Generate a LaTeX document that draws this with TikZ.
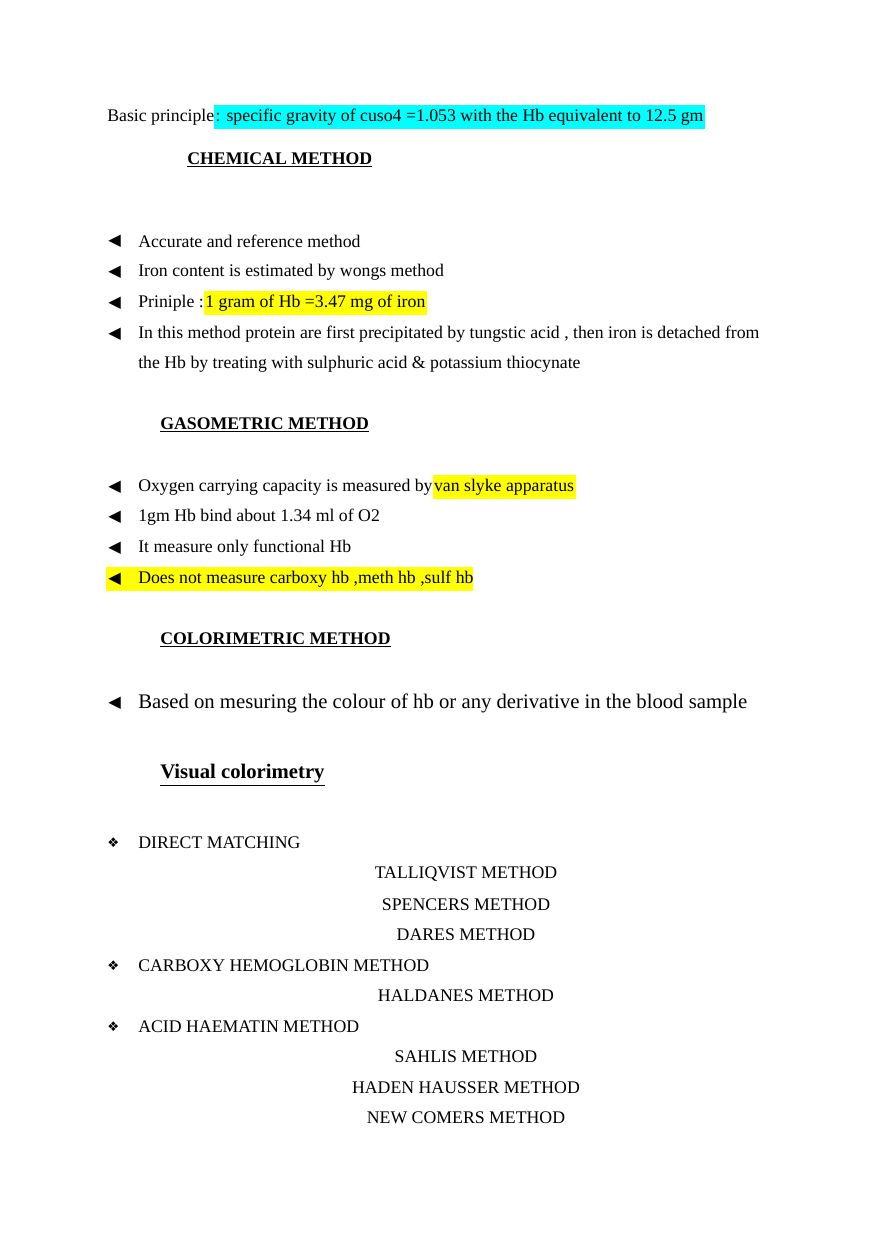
\documentclass[tikz,border=0pt]{standalone}
\usepackage{fontspec}
\setmainfont{Liberation Serif}
\newfontfamily\symfont{DejaVu Sans}
\usetikzlibrary{positioning}
\definecolor{hlcyan}{RGB}{0,255,255}
\definecolor{hlyellow}{RGB}{255,255,0}
\newcommand{\hlc}[2]{{\setlength{\fboxsep}{1pt}\colorbox{#1}{\strut #2}}}
\newcommand{\tri}{{\symfont\fontsize{11}{13}\selectfont ◀}}
\newcommand{\dia}{{\symfont\small ❖}}
\begin{document}
\begin{tikzpicture}[x=0.676pt,y=-0.676pt,
  txt/.style={anchor=west,inner sep=0pt,font=\fontsize{12}{14}\selectfont},
  big/.style={anchor=west,inner sep=0pt,font=\fontsize{14}{17}\selectfont},
  head/.style={anchor=west,inner sep=0pt,font=\fontsize{12}{14}\selectfont\bfseries},
  mid/.style={inner sep=0pt,font=\fontsize{12}{14}\selectfont}]
\useasboundingbox[fill=white] (0,0) rectangle (880,1244);
\node[txt] (basic) at (107,117) {Basic principle\hlc{hlcyan}{: specific gravity of cuso4 =1.053 with the Hb equivalent to 12.5 gm}};
\node[head] (chem) at (187,160) {\underline{CHEMICAL METHOD}};
% chemical method
\node[txt] (c1b) at (108,241) {\tri};
\node[txt] (c1) at (138,241) {Accurate and reference method};
\node[txt] (c2b) at (108,272) {\tri};
\node[txt] (c2) at (138,272) {Iron content is estimated by wongs method};
\node[txt] (c3b) at (108,303) {\tri};
\node[txt] (c3) at (138,303) {Priniple :\hlc{hlyellow}{1 gram of Hb =3.47 mg of iron}};
\node[txt] (c4b) at (108,334) {\tri};
\node[txt] (c4) at (138,334) {In this method protein are first precipitated by tungstic acid , then iron is detached from};
\node[txt] (c4x) at (138,364) {the Hb by treating with sulphuric acid \& potassium thiocynate};
% gasometric method
\node[head] (gas) at (160,425) {\underline{GASOMETRIC METHOD}};
\node[txt] (g1b) at (108,487) {\tri};
\node[txt] (g1) at (138,487) {Oxygen carrying capacity is measured by\hlc{hlyellow}{van slyke apparatus}};
\node[txt] (g2b) at (108,517) {\tri};
\node[txt] (g2) at (138,517) {1gm Hb bind about 1.34 ml of O2};
\node[txt] (g3b) at (108,548) {\tri};
\node[txt] (g3) at (138,548) {It measure only functional Hb};
\fill[hlyellow] (106,567) rectangle (473,591);
\node[txt] (g4b) at (108,579) {\tri};
\node[txt] (g4) at (138,579) {Does not measure carboxy hb ,meth hb ,sulf hb};
% colorimetric method
\node[head] (col) at (160,640) {\underline{COLORIMETRIC METHOD}};
\node[txt] (k1b) at (108,703) {\tri};
\node[big] (k1) at (138,703) {Based on mesuring the colour of hb or any derivative in the blood sample};
\node[big,font=\fontsize{14}{17}\selectfont\bfseries] (vis) at (160,775) {\underline{Visual colorimetry}};
% methods
\node[txt] (d1b) at (107,843) {\dia};
\node[txt] (d1) at (138,843) {DIRECT MATCHING};
\node[mid] (m1) at (466,874) {TALLIQVIST METHOD};
\node[mid] (m2) at (466,905) {SPENCERS METHOD};
\node[mid] (m3) at (466,935) {DARES METHOD};
\node[txt] (d2b) at (107,966) {\dia};
\node[txt] (d2) at (138,966) {CARBOXY HEMOGLOBIN METHOD};
\node[mid] (m4) at (466,996) {HALDANES METHOD};
\node[txt] (d3b) at (107,1027) {\dia};
\node[txt] (d3) at (138,1027) {ACID HAEMATIN METHOD};
\node[mid] (m5) at (466,1057) {SAHLIS METHOD};
\node[mid] (m6) at (466,1088) {HADEN HAUSSER METHOD};
\node[mid] (m7) at (466,1118) {NEW COMERS METHOD};
\end{tikzpicture}
\end{document}
